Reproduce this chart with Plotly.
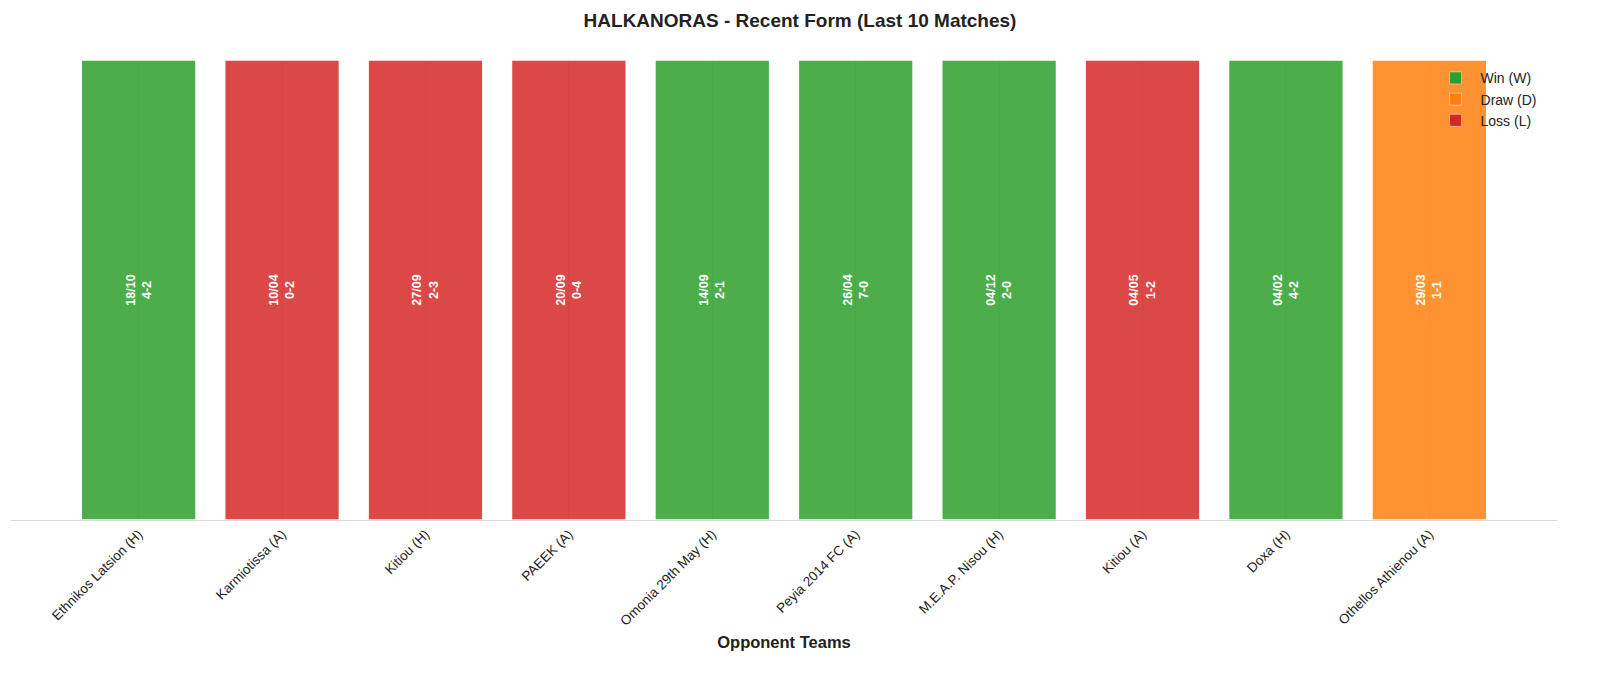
import plotly.graph_objects as go

# match data (last 10)
opponents = ["Ethnikos Latsion (H)", "Karmiotissa (A)", "Kitiou (H)", "PAEEK (A)",
             "Omonia 29th May (H)", "Peyia 2014 FC (A)", "M.E.A.P. Nisou (H)",
             "Kitiou (A)", "Doxa (H)", "Othellos Athienou (A)"]
dates = ["18/10", "10/04", "27/09", "20/09", "14/09", "26/04", "04/12", "04/05", "04/02", "29/03"]
scores = ["4-2", "0-2", "2-3", "0-4", "2-1", "7-0", "2-0", "1-2", "4-2", "1-1"]
results = ["W", "L", "L", "L", "W", "W", "W", "L", "W", "D"]
heights = [1] * 10

colors = {"W": "#2ca02c", "D": "#ff7f0e", "L": "#d62728"}
names = {"W": "Win (W)", "D": "Draw (D)", "L": "Loss (L)"}

FONT = "Liberation Sans, Arial, sans-serif"

fig = go.Figure()

fig.add_trace(go.Bar(
    x=list(range(len(opponents))), y=heights,
    marker=dict(color=[colors[r] for r in results], opacity=0.85,
                line=dict(color="white", width=1.5)),
    width=0.8,
    text=[d + "<br>" + s for d, s in zip(dates, scores)],
    textposition="inside", insidetextanchor="middle", textangle=-90,
    textfont=dict(color="white", size=12.5, family=FONT, weight="bold"),
    constraintext="none",
    showlegend=False, hoverinfo="skip",
))

# legend only entries
for r in ["W", "D", "L"]:
    fig.add_trace(go.Bar(x=[None], y=[None], name=names[r],
                         marker=dict(color=colors[r])))

fig.update_layout(
    width=1600, height=679,
    barmode="overlay",
    plot_bgcolor="white", paper_bgcolor="white",
    font=dict(family=FONT, color="#222222"),
    margin=dict(l=11, r=43, t=60, b=159),
    title=dict(text="<b>HALKANORAS - Recent Form (Last 10 Matches)</b>",
               x=0.5, xanchor="center", y=1 - 20 / 679, yanchor="middle",
               font=dict(size=19, color="#222222")),
    legend=dict(x=0.99, xanchor="right", y=0.995, yanchor="top",
                bgcolor="rgba(0,0,0,0)", font=dict(size=14),
                traceorder="normal", itemwidth=40, tracegroupgap=2),
    showlegend=True,
)

fig.update_xaxes(
    range=[-0.89, 9.89],
    tickmode="array", tickvals=list(range(len(opponents))), ticktext=opponents,
    tickangle=-45, tickfont=dict(size=13.5),
    showgrid=True, gridcolor="#e6e6e6", gridwidth=1,
    showline=True, linecolor="#d9d9d9", linewidth=1,
    ticks="", zeroline=False, automargin=False,
    title=dict(text="<b>Opponent Teams</b>", font=dict(size=16.5), standoff=8),
)
fig.update_yaxes(range=[0, 1], visible=False, showgrid=False)

# drop the browser's default page margin so the figure sits at 0,0
fig.write_html("out.html", config={"displayModeBar": False},
               post_script="document.body.style.margin='0';")
